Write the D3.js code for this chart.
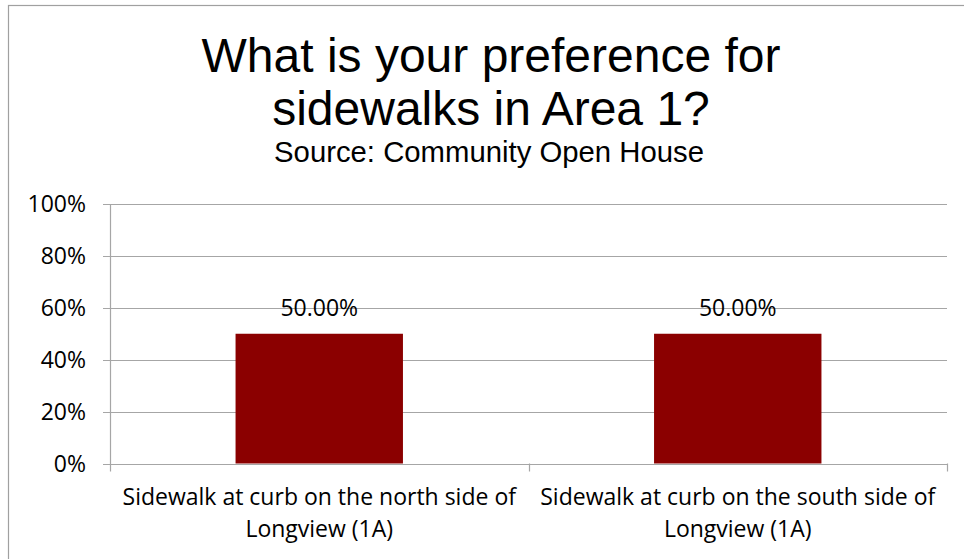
<!DOCTYPE html>
<html>
<head>
<meta charset="utf-8">
<script src="https://cdn.jsdelivr.net/npm/d3@7"></script>
<style>
  body { margin: 0; background: #fff; }
  svg { display: block; }
</style>
</head>
<body>
<div id="chart"></div>
<script>
// chart data
var categories = [
  "Sidewalk at curb on the north side of Longview (1A)",
  "Sidewalk at curb on the south side of Longview (1A)"
];
var values = [0.5, 0.5];
var yTicks = [0, 0.2, 0.4, 0.6, 0.8, 1.0];
var titleLines = ["What is your preference for", "sidewalks in Area 1?"];
var subtitle = "Source: Community Open House";

var width = 964, height = 559;
var barColor = "#8b0000";
var gridColor = "#a6a6a6";
var axisFont = "'Open Sans', 'Noto Sans', sans-serif";

var svg = d3.select("#chart")
    .append("svg")
    .attr("width", width)
    .attr("height", height);

// chart frame (runs off the right and bottom of the picture)
svg.append("rect")
    .attr("x", 8.5)
    .attr("y", 5.5)
    .attr("width", 1200)
    .attr("height", 1200)
    .attr("fill", "none")
    .attr("stroke", "#a0a0a0")
    .attr("stroke-width", 1.2);

// title
var title = svg.append("g")
    .attr("font-family", "'Liberation Sans', Arial, sans-serif")
    .attr("fill", "#000")
    .attr("text-anchor", "middle");

title.selectAll("text.t")
  .data(titleLines)
  .enter().append("text")
    .attr("class", "t")
    .attr("x", 491)
    .attr("y", (d, i) => 72 + i * 53)
    .attr("font-size", 48)
    .text(d => d);

title.append("text")
    .attr("x", 489)
    .attr("y", 162)
    .attr("font-size", 29.3)
    .text(subtitle);

// scales
var x = d3.scaleBand()
    .domain(categories)
    .range([110, 947])
    .paddingInner(0)
    .paddingOuter(0);

var y = d3.scaleLinear()
    .domain([0, 1])
    .range([463.5, 204]);

// gridlines
svg.append("g")
    .selectAll("line")
    .data(yTicks)
    .enter().append("line")
    .attr("x1", 103)
    .attr("x2", 947)
    .attr("y1", d => Math.round(y(d)) + 0.5)
    .attr("y2", d => Math.round(y(d)) + 0.5)
    .attr("stroke", gridColor)
    .attr("stroke-width", 1.2);

// y axis line
svg.append("line")
    .attr("x1", 110.5).attr("x2", 110.5)
    .attr("y1", y(1)).attr("y2", y(0) + 8)
    .attr("stroke", gridColor)
    .attr("stroke-width", 1.2);

// category ticks between bands
var bounds = categories.map(c => x(c)).concat([x.range()[1]]);
svg.append("g")
    .selectAll("line")
    .data(bounds.slice(1))
    .enter().append("line")
    .attr("x1", d => Math.round(d) + 0.5)
    .attr("x2", d => Math.round(d) + 0.5)
    .attr("y1", y(0))
    .attr("y2", y(0) + 8)
    .attr("stroke", gridColor)
    .attr("stroke-width", 1.2);

// y tick labels
svg.append("g")
    .selectAll("text")
    .data(yTicks)
    .enter().append("text")
    .attr("x", 86)
    .attr("y", d => y(d) + 8)
    .attr("text-anchor", "end")
    .attr("font-family", axisFont)
    .attr("font-size", 23)
    .attr("fill", "#000")
    .text(d => d3.format(".0%")(d));

// bars
var barW = x.bandwidth() * 0.4;
svg.append("g")
    .selectAll("rect")
    .data(values)
    .enter().append("rect")
    .attr("x", (d, i) => x(categories[i]) + x.bandwidth() / 2 - barW / 2)
    .attr("y", d => y(d))
    .attr("width", barW)
    .attr("height", d => y(0) - y(d))
    .attr("fill", barColor);

// value labels
svg.append("g")
    .selectAll("text")
    .data(values)
    .enter().append("text")
    .attr("x", (d, i) => x(categories[i]) + x.bandwidth() / 2)
    .attr("y", d => y(d) - 18)
    .attr("text-anchor", "middle")
    .attr("font-family", axisFont)
    .attr("font-size", 23)
    .attr("fill", "#000")
    .text(d => d3.format(".2%")(d));

// category labels, wrapped to the band width
var catLabels = svg.append("g")
    .selectAll("text")
    .data(categories)
    .enter().append("text")
    .attr("x", d => x(d) + x.bandwidth() / 2)
    .attr("y", 505)
    .attr("text-anchor", "middle")
    .attr("font-family", axisFont)
    .attr("font-size", 23)
    .attr("fill", "#000");

catLabels.each(function(d) {
  var el = d3.select(this);
  var words = d.split(" ");
  var lines = [[]];
  var probe = el.append("tspan");
  words.forEach(w => {
    var cur = lines[lines.length - 1];
    probe.text(cur.concat([w]).join(" "));
    if (cur.length && probe.node().getComputedTextLength() > x.bandwidth() - 4) {
      lines.push([w]);
    } else {
      cur.push(w);
    }
  });
  probe.remove();
  lines.forEach((ln, i) => {
    el.append("tspan")
      .attr("x", el.attr("x"))
      .attr("dy", i == 0 ? 0 : 32)
      .text(ln.join(" "));
  });
});
</script>
</body>
</html>
